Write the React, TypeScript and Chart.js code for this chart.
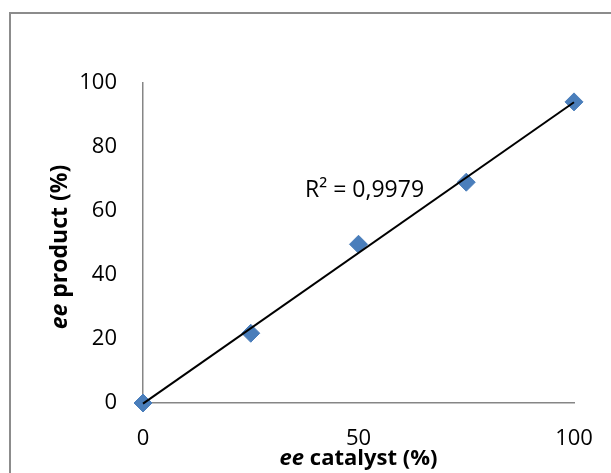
import React, { useEffect, useRef } from 'react';
import { Chart, registerables } from 'chart.js';

Chart.register(...registerables);

// ---- data ----
const catalystEe = [0, 25, 50, 75, 100];
const productEe = [0, 21.8, 49.6, 69.0, 94.1];
const trendX = [0, 100];
const trendY = [-0.2, 94.0];
const xTicks = [0, 50, 100];
const yTicks = [0, 20, 40, 60, 80, 100];
const r2Label = 'R² = 0,9979';
const xTitleParts = [
  { text: 'ee', italic: true },
  { text: ' catalyst (%)', italic: false },
];
const yTitleParts = [
  { text: 'ee', italic: true },
  { text: ' product (%)', italic: false },
];

const FAMILY = "'Open Sans', 'Noto Sans', sans-serif";
const TICK_SIZE = 22;
const X_TITLE_SIZE = 22;
const Y_TITLE_SIZE = 23;
const R2_SIZE = 23;
const MARKER = '#4a7ebb';
const AXIS = '#868686';

function drawMixed(
  ctx: CanvasRenderingContext2D,
  parts: { text: string; italic: boolean }[],
  cx: number,
  y: number,
  size: number
) {
  const fonts = parts.map((p) => `${p.italic ? 'italic ' : ''}bold ${size}px ${FAMILY}`);
  let total = 0;
  const widths = parts.map((p, i) => {
    ctx.font = fonts[i];
    const w = ctx.measureText(p.text).width;
    total += w;
    return w;
  });
  let x = cx - total / 2;
  ctx.fillStyle = '#000';
  ctx.textAlign = 'left';
  ctx.textBaseline = 'alphabetic';
  parts.forEach((p, i) => {
    ctx.font = fonts[i];
    ctx.fillText(p.text, x, y);
    x += widths[i];
  });
}

const decorPlugin = {
  id: 'decor',
  beforeDraw(chart: any) {
    const { ctx, width, height } = chart;
    ctx.save();
    ctx.fillStyle = '#ffffff';
    ctx.fillRect(0, 0, width, height);
    ctx.strokeStyle = '#8c8c8c';
    ctx.lineWidth = 2;
    ctx.strokeRect(10, 13, width + 40, height + 40);
    ctx.restore();
  },
  afterDraw(chart: any) {
    const { ctx, chartArea, scales } = chart;
    ctx.save();
    drawMixed(ctx, xTitleParts, (chartArea.left + chartArea.right) / 2, 465, X_TITLE_SIZE);
    ctx.restore();

    ctx.save();
    ctx.translate(67, (chartArea.top + chartArea.bottom) / 2 + 4);
    ctx.rotate(-Math.PI / 2);
    drawMixed(ctx, yTitleParts, 0, 0, Y_TITLE_SIZE);
    ctx.restore();

    ctx.save();
    ctx.font = `${R2_SIZE}px ${FAMILY}`;
    ctx.fillStyle = '#000';
    ctx.textAlign = 'left';
    ctx.textBaseline = 'alphabetic';
    ctx.fillText(r2Label, scales.x.getPixelForValue(37.6), scales.y.getPixelForValue(64.4));
    ctx.restore();
  },
};

export default function App() {
  const canvasRef = useRef<HTMLCanvasElement | null>(null);

  useEffect(() => {
    document.body.style.margin = '0';
    const canvas = canvasRef.current;
    if (!canvas) return;

    const chart = new Chart(canvas, {
      type: 'scatter',
      data: {
        datasets: [
          {
            label: 'Trend',
            data: trendX.map((x, i) => ({ x, y: trendY[i] })),
            showLine: true,
            borderColor: '#000000',
            borderWidth: 2,
            pointRadius: 0,
            pointHoverRadius: 0,
            clip: false,
            order: 0,
          } as any,
          {
            label: 'ee',
            data: catalystEe.map((x, i) => ({ x, y: productEe[i] })),
            pointStyle: 'rectRot',
            pointRadius: 9,
            backgroundColor: MARKER,
            borderColor: MARKER,
            borderWidth: 1,
            clip: false,
            order: 1,
          } as any,
        ],
      },
      options: {
        responsive: false,
        animation: false,
        devicePixelRatio: 1,
        layout: { padding: { top: 83, right: 37, left: 0, bottom: 0 } },
        plugins: {
          legend: { display: false },
          tooltip: { enabled: false },
        },
        scales: {
          x: {
            type: 'linear',
            min: 0,
            max: 100,
            afterBuildTicks: (s: any) => {
              s.ticks = xTicks.map((v) => ({ value: v }));
            },
            afterFit: (s: any) => {
              s.height = 70;
              s.paddingLeft = 0;
              s.paddingRight = 0;
            },
            grid: { display: false, drawTicks: false },
            border: { display: true, color: AXIS, width: 1.5 },
            ticks: {
              color: '#000',
              padding: 23,
              font: { family: FAMILY, size: TICK_SIZE },
              maxRotation: 0,
            },
          },
          y: {
            type: 'linear',
            min: 0,
            max: 100,
            afterBuildTicks: (s: any) => {
              s.ticks = yTicks.map((v) => ({ value: v }));
            },
            afterFit: (s: any) => {
              s.width = 143;
              s.paddingTop = 0;
              s.paddingBottom = 0;
            },
            grid: { display: false, drawTicks: false },
            border: { display: true, color: AXIS, width: 1.5 },
            ticks: {
              color: '#000',
              padding: 26,
              font: { family: FAMILY, size: TICK_SIZE },
            },
          },
        },
      },
      plugins: [decorPlugin],
    });

    return () => chart.destroy();
  }, []);

  return (
    <div style={{ width: 611, height: 473 }}>
      <canvas ref={canvasRef} width={611} height={473} style={{ display: 'block' }} />
    </div>
  );
}
